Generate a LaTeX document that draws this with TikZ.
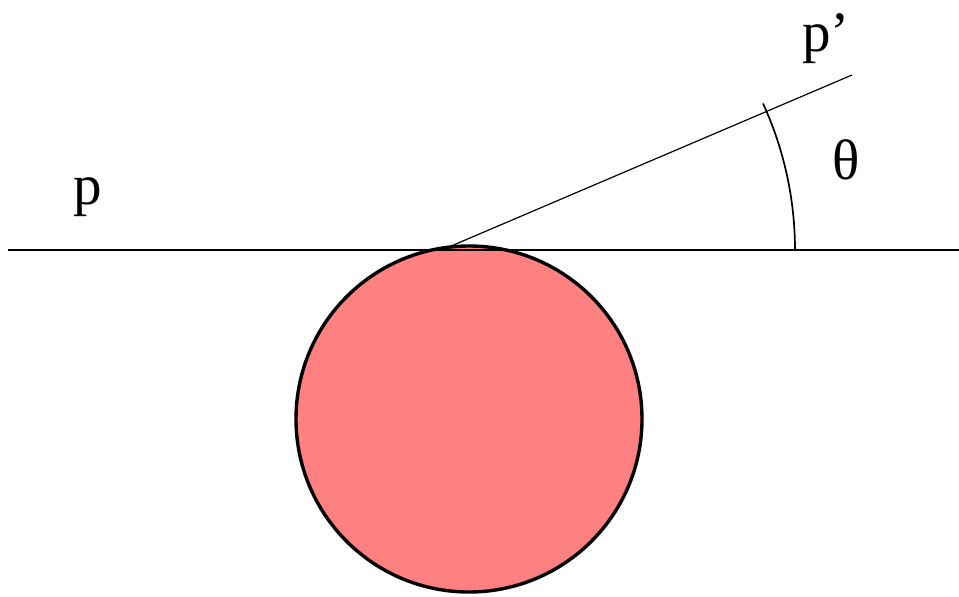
\documentclass[tikz,border=0pt]{standalone}
\usepackage{fontspec}
\setmainfont{Liberation Serif}
\begin{document}
\begin{tikzpicture}[x=1pt,y=-1pt,
  lbl/.style={font=\fontsize{57}{60}\selectfont,inner sep=0pt}]
  \useasboundingbox (0,0) rectangle (959,597);
  \node[circle,draw,line width=3.4pt,fill={rgb,255:red,255;green,128;blue,128},
    minimum size=346pt,inner sep=0pt](ball) at (469,419) {};
  \coordinate (touch) at (443,249.5);
  \coordinate (left) at (8,250);
  \coordinate (right) at (959,250);
  \coordinate (tip) at (852,75);
  \coordinate (foot) at (795,250);
  \draw[line width=2.4pt](left)--(right);
  \draw[line width=1.2pt](touch)--(tip);
  \draw[line width=1.7pt](foot) arc[start angle=0,end angle=-24.6,radius=352];
  \node[lbl,anchor=base](p) at (88,204) {p};
  \node[lbl,anchor=base](pp) at (826,51) {p'};
  \node[lbl](theta) at (846,160) {θ};
\end{tikzpicture}
\end{document}
